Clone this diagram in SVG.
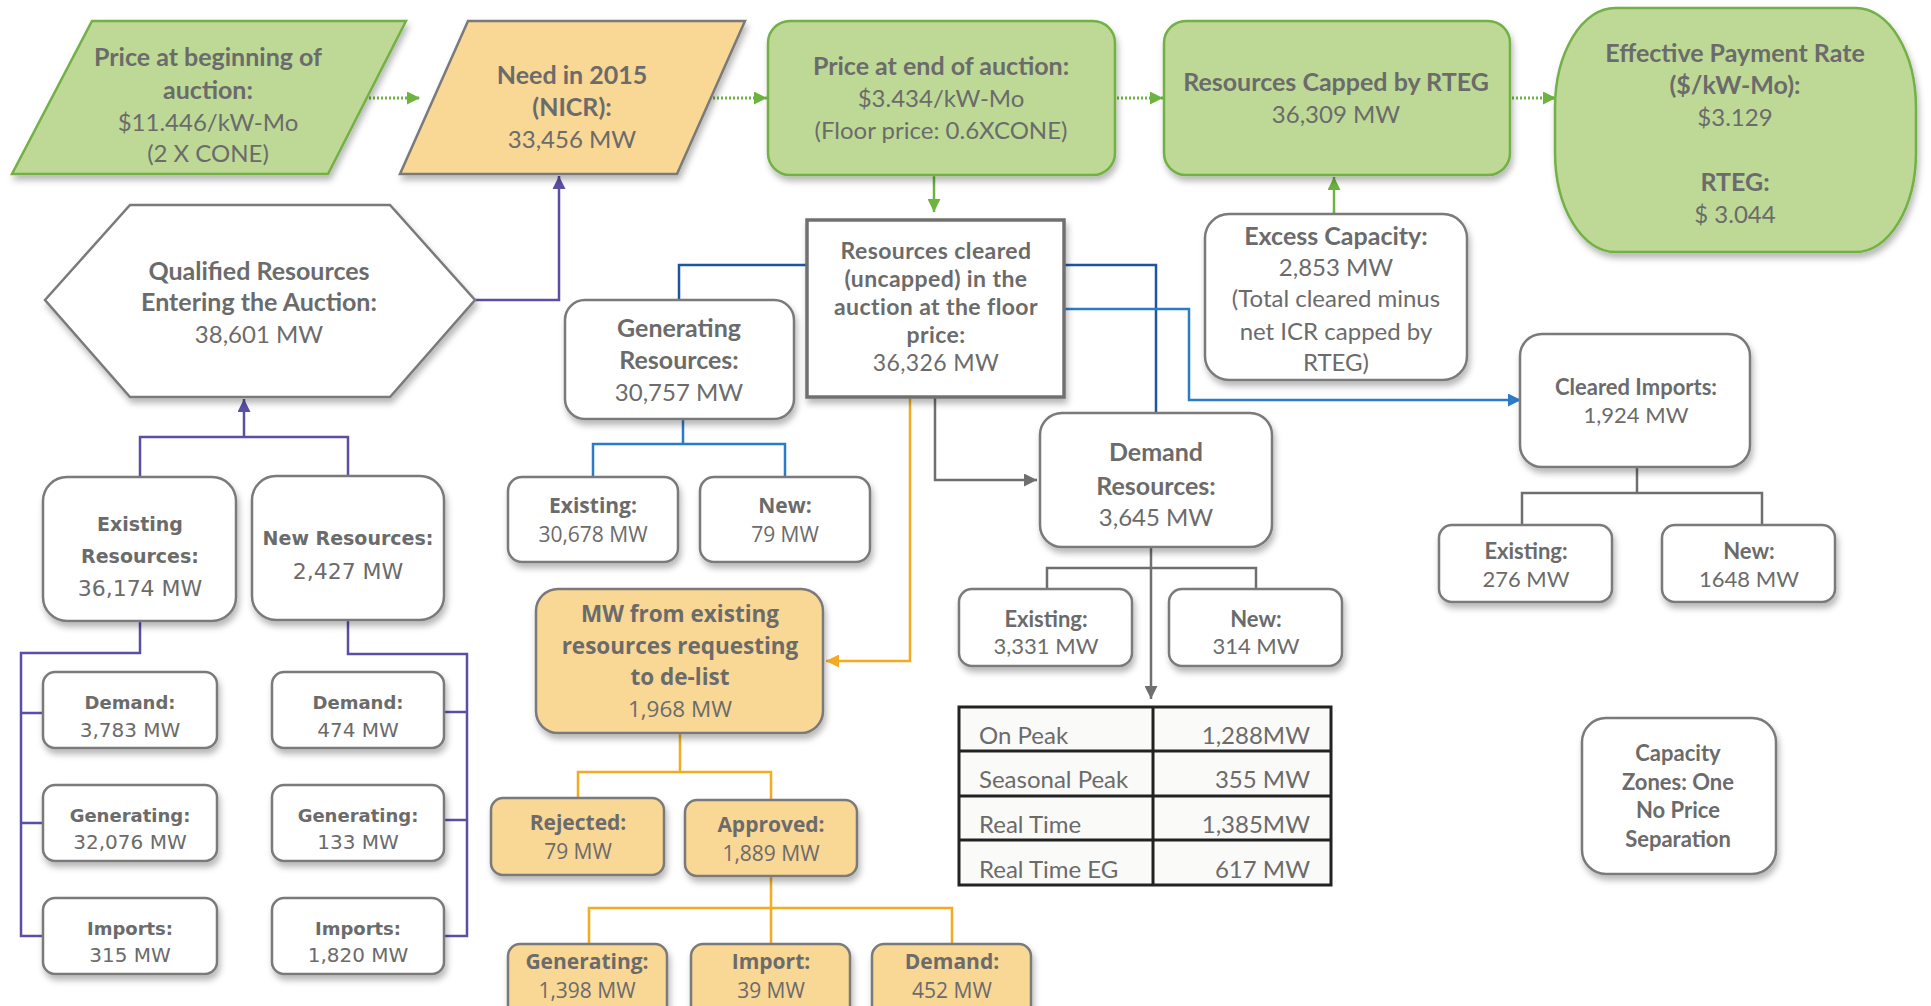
<svg xmlns="http://www.w3.org/2000/svg" width="1931" height="1006" viewBox="0 0 1931 1006">
<defs>
<style>
.t{font-family:Lato,"Open Sans",sans-serif;font-size:24px;fill:#6B6B6B;text-anchor:middle}
.b{font-weight:700}
.t.b{font-size:25px}
.t.c,.t.c.b{font-size:23px;letter-spacing:0.4px}
.v{font-family:"DejaVu Sans",Verdana,sans-serif;font-size:22px}
.v.b{font-size:19px}
.v.sm{font-size:20px}
.v.sm.b{font-size:18px}
.s{font-family:"Open Sans",sans-serif;font-size:21px}
.s.b{font-size:21px}
.s.L,.s.L.b{font-size:22.5px}
.n22,.n22.b{font-size:22px}
.wbox{fill:#fff;stroke:#7A7A7A;stroke-width:2.5;filter:url(#sh)}
.gbox{fill:#BDD995;stroke:#73B045;stroke-width:2.5;filter:url(#sh)}
.obox{fill:#F9D795;stroke:#7A7A7A;stroke-width:2.5;filter:url(#sh)}
.cn{fill:none;stroke-width:2.5}
.pu{stroke:#5A4FA5}
.db{stroke:#1F55A0}
.lb{stroke:#2B7BC8}
.or{stroke:#F4AB20}
.gr{stroke:#6F6F6F}
.gn{stroke:#6DB33F}
.dot{stroke:#6DB33F;stroke-width:3;stroke-dasharray:2 2;fill:none}
</style>
<filter id="sh" x="-10%" y="-10%" width="125%" height="130%">
<feDropShadow dx="2" dy="5" stdDeviation="3" flood-color="#000" flood-opacity="0.28"/>
</filter>
<marker id="aG" viewBox="0 0 10 10" refX="10" refY="5" markerWidth="13" markerHeight="13" markerUnits="userSpaceOnUse" orient="auto"><path d="M0,0 L10,5 L0,10 z" fill="#6DB33F"/></marker>
<marker id="aP" viewBox="0 0 10 10" refX="10" refY="5" markerWidth="13" markerHeight="13" markerUnits="userSpaceOnUse" orient="auto"><path d="M0,0 L10,5 L0,10 z" fill="#5A4FA5"/></marker>
<marker id="aB" viewBox="0 0 10 10" refX="10" refY="5" markerWidth="13" markerHeight="13" markerUnits="userSpaceOnUse" orient="auto"><path d="M0,0 L10,5 L0,10 z" fill="#2B7BC8"/></marker>
<marker id="aO" viewBox="0 0 10 10" refX="10" refY="5" markerWidth="13" markerHeight="13" markerUnits="userSpaceOnUse" orient="auto"><path d="M0,0 L10,5 L0,10 z" fill="#F4AB20"/></marker>
<marker id="aR" viewBox="0 0 10 10" refX="10" refY="5" markerWidth="13" markerHeight="13" markerUnits="userSpaceOnUse" orient="auto"><path d="M0,0 L10,5 L0,10 z" fill="#6F6F6F"/></marker>
</defs>
<rect width="1931" height="1006" fill="#fff"/>

<g id="connectors">
<path class="dot" d="M369,98 H420" marker-end="url(#aG)"/>
<path class="dot" d="M713,98 H767" marker-end="url(#aG)"/>
<path class="dot" d="M1117,98 H1163" marker-end="url(#aG)"/>
<path class="dot" d="M1512,98 H1556" marker-end="url(#aG)"/>
<path class="cn gn" d="M934,175 V212" marker-end="url(#aG)"/>
<path class="cn gn" d="M1334,214 V177" marker-end="url(#aG)"/>
<path class="cn pu" d="M475,300 H559 V176" marker-end="url(#aP)"/>
<path class="cn pu" d="M140,477 V437 H348 V476 M244,437 V399" marker-end="url(#aP)"/>
<path class="cn pu" d="M140,621 V653 H21 V936 H43 M21,713 H43 M21,823 H43"/>
<path class="cn pu" d="M348,620 V654 H467 V936 H445 M467,712 H445 M467,820 H445"/>
<path class="cn db" d="M807,265 H679 V300"/>
<path class="cn db" d="M1064,265 H1156 V413"/>
<path class="cn lb" d="M1064,309 H1189 V400 H1521" marker-end="url(#aB)"/>
<path class="cn lb" d="M683,419 V444 M593,478 V444 H785 V478"/>
<path class="cn or" d="M910,398 V661 H826" marker-end="url(#aO)"/>
<path class="cn gr" d="M935,398 V480 H1037" marker-end="url(#aR)"/>
<path class="cn gr" d="M1151,547 V699" marker-end="url(#aR)"/>
<path class="cn gr" d="M1047,589 V568 H1256 V589"/>
<path class="cn gr" d="M1637,467 V493 M1522,525 V493 H1762 V525"/>
<path class="cn or" d="M680,733 V772 M578,798 V772 H771 V800"/>
<path class="cn or" d="M771,876 V944 M589,944 V908 H952 V944"/>
</g>

<g id="price-begin">
<polygon class="gbox" points="92,21 406,21 328,174 12,174"/>
<text class="t b" x="208" y="66">Price at beginning of</text>
<text class="t b" x="208" y="99">auction:</text>
<text class="t" x="208" y="131">$11.446/kW-Mo</text>
<text class="t" x="208" y="162">(2 X CONE)</text>
</g>

<g id="need-2015">
<polygon class="obox" points="468,21 745,21 677,174 400,174"/>
<text class="t b" x="572" y="84">Need in 2015</text>
<text class="t b" x="572" y="116">(NICR):</text>
<text class="t" x="572" y="148">33,456 MW</text>
</g>

<g id="price-end">
<rect class="gbox" x="768" y="21" width="347" height="154" rx="22"/>
<text class="t b" x="941" y="75">Price at end of auction:</text>
<text class="t" x="941" y="107">$3.434/kW-Mo</text>
<text class="t" x="941" y="139">(Floor price: 0.6XCONE)</text>
</g>

<g id="capped-rteg">
<rect class="gbox" x="1164" y="21" width="346" height="154" rx="22"/>
<text class="t b" x="1336" y="91">Resources Capped by RTEG</text>
<text class="t" x="1336" y="123">36,309 MW</text>
</g>

<g id="effective-rate">
<rect class="gbox" x="1555" y="8" width="361" height="244" rx="60" ry="100"/>
<text class="t b" x="1735" y="62">Effective Payment Rate</text>
<text class="t b" x="1735" y="94">($/kW-Mo):</text>
<text class="t" x="1735" y="126">$3.129</text>
<text class="t b" x="1735" y="191">RTEG:</text>
<text class="t" x="1735" y="223">$ 3.044</text>
</g>

<g id="qualified">
<polygon class="wbox" points="45,300 130,205 390,205 475,300 390,397 130,397"/>
<text class="t b" x="259" y="280">Qualified Resources</text>
<text class="t b" x="259" y="311">Entering the Auction:</text>
<text class="t" x="259" y="343">38,601  MW</text>
</g>

<g id="cleared">
<rect x="807" y="220" width="257" height="177" fill="#fff" stroke="#707070" stroke-width="3.5" filter="url(#sh)"/>
<text class="t c b" x="936" y="259">Resources cleared</text>
<text class="t c b" x="936" y="287">(uncapped) in the</text>
<text class="t c b" x="936" y="315">auction at the floor</text>
<text class="t c b" x="936" y="343">price:</text>
<text class="t c" x="936" y="371">36,326 MW</text>
</g>

<g id="excess">
<rect class="wbox" x="1205" y="214" width="262" height="166" rx="24"/>
<text class="t b" x="1336" y="245">Excess Capacity:</text>
<text class="t" x="1336" y="276">2,853 MW</text>
<text class="t" x="1336" y="307">(Total cleared minus</text>
<text class="t" x="1336" y="340">net ICR capped by</text>
<text class="t" x="1336" y="371">RTEG)</text>
</g>

<g id="generating-res">
<rect class="wbox" x="565" y="300" width="229" height="119" rx="20"/>
<text class="t b" x="679" y="337">Generating</text>
<text class="t b" x="679" y="369">Resources:</text>
<text class="t" x="679" y="401">30,757 MW</text>
</g>

<g id="gen-existing">
<rect class="wbox" x="508" y="477" width="170" height="85" rx="14"/>
<text class="t s b" x="593" y="513">Existing:</text>
<text class="t s" x="593" y="542">30,678 MW</text>
</g>
<g id="gen-new">
<rect class="wbox" x="700" y="477" width="170" height="85" rx="14"/>
<text class="t s b" x="785" y="513">New:</text>
<text class="t s" x="785" y="542">79 MW</text>
</g>

<g id="existing-res">
<rect class="wbox" x="43" y="477" width="193" height="144" rx="24"/>
<text class="t v b" x="140" y="531">Existing</text>
<text class="t v b" x="140" y="563">Resources:</text>
<text class="t v" x="140" y="596">36,174 MW</text>
</g>
<g id="new-res">
<rect class="wbox" x="252" y="476" width="192" height="144" rx="24"/>
<text class="t v b" x="348" y="545">New Resources:</text>
<text class="t v" x="348" y="579">2,427 MW</text>
</g>

<g id="ex-demand">
<rect class="wbox" x="43" y="672" width="174" height="76" rx="12"/>
<text class="t v sm b" x="130" y="709">Demand:</text>
<text class="t v sm" x="130" y="737">3,783 MW</text>
</g>
<g id="ex-generating">
<rect class="wbox" x="43" y="785" width="174" height="76" rx="12"/>
<text class="t v sm b" x="130" y="822">Generating:</text>
<text class="t v sm" x="130" y="849">32,076 MW</text>
</g>
<g id="ex-imports">
<rect class="wbox" x="43" y="898" width="174" height="76" rx="12"/>
<text class="t v sm b" x="130" y="935">Imports:</text>
<text class="t v sm" x="130" y="962">315 MW</text>
</g>
<g id="new-demand">
<rect class="wbox" x="272" y="672" width="172" height="76" rx="12"/>
<text class="t v sm b" x="358" y="709">Demand:</text>
<text class="t v sm" x="358" y="737">474 MW</text>
</g>
<g id="new-generating">
<rect class="wbox" x="272" y="785" width="172" height="76" rx="12"/>
<text class="t v sm b" x="358" y="822">Generating:</text>
<text class="t v sm" x="358" y="849">133 MW</text>
</g>
<g id="new-imports">
<rect class="wbox" x="272" y="898" width="172" height="76" rx="12"/>
<text class="t v sm b" x="358" y="935">Imports:</text>
<text class="t v sm" x="358" y="962">1,820 MW</text>
</g>

<g id="delist">
<rect class="obox" x="536" y="589" width="287" height="144" rx="22"/>
<text class="t s L b" x="680" y="622">MW from existing</text>
<text class="t s L b" x="680" y="654">resources requesting</text>
<text class="t s L b" x="680" y="685">to de-list</text>
<text class="t s L" x="680" y="717">1,968 MW</text>
</g>
<g id="rejected">
<rect class="obox" x="491" y="798" width="173" height="77" rx="12"/>
<text class="t s b" x="578" y="830">Rejected:</text>
<text class="t s" x="578" y="859">79 MW</text>
</g>
<g id="approved">
<rect class="obox" x="685" y="800" width="172" height="76" rx="12"/>
<text class="t s b" x="771" y="832">Approved:</text>
<text class="t s" x="771" y="861">1,889 MW</text>
</g>
<g id="ap-generating">
<rect class="obox" x="508" y="944" width="159" height="75" rx="12"/>
<text class="t s b" x="587" y="969">Generating:</text>
<text class="t s" x="587" y="998">1,398 MW</text>
</g>
<g id="ap-import">
<rect class="obox" x="691" y="944" width="159" height="75" rx="12"/>
<text class="t s b" x="771" y="969">Import:</text>
<text class="t s" x="771" y="998">39 MW</text>
</g>
<g id="ap-demand">
<rect class="obox" x="872" y="944" width="159" height="75" rx="12"/>
<text class="t s b" x="952" y="969">Demand:</text>
<text class="t s" x="952" y="998">452 MW</text>
</g>

<g id="demand-res">
<rect class="wbox" x="1040" y="413" width="232" height="134" rx="22"/>
<text class="t b" x="1156" y="461">Demand</text>
<text class="t b" x="1156" y="495">Resources:</text>
<text class="t" x="1156" y="526">3,645 MW</text>
</g>
<g id="dr-existing">
<rect class="wbox" x="959" y="589" width="173" height="77" rx="13"/>
<text class="t b n22" x="1046" y="627">Existing:</text>
<text class="t n22" x="1046" y="654">3,331 MW</text>
</g>
<g id="dr-new">
<rect class="wbox" x="1169" y="589" width="173" height="77" rx="13"/>
<text class="t b n22" x="1256" y="627">New:</text>
<text class="t n22" x="1256" y="654">314 MW</text>
</g>

<g id="dr-table">
<rect x="959" y="707" width="372" height="178" fill="#FAFAF8" stroke="#222" stroke-width="3"/>
<path d="M1153,707 V885 M959,751 H1331 M959,796 H1331 M959,840 H1331" stroke="#222" stroke-width="3" fill="none"/>
<text class="t" x="979" y="744" style="text-anchor:start">On Peak</text>
<text class="t" x="1310" y="744" style="text-anchor:end">1,288MW</text>
<text class="t" x="979" y="788" style="text-anchor:start">Seasonal Peak</text>
<text class="t" x="1310" y="788" style="text-anchor:end">355 MW</text>
<text class="t" x="979" y="833" style="text-anchor:start">Real Time</text>
<text class="t" x="1310" y="833" style="text-anchor:end">1,385MW</text>
<text class="t" x="979" y="878" style="text-anchor:start">Real Time EG</text>
<text class="t" x="1310" y="878" style="text-anchor:end">617 MW</text>
</g>

<g id="cleared-imports">
<rect class="wbox" x="1520" y="334" width="230" height="133" rx="22"/>
<text class="t b n22" x="1636" y="395">Cleared Imports:</text>
<text class="t n22" x="1636" y="423">1,924 MW</text>
</g>
<g id="ci-existing">
<rect class="wbox" x="1439" y="525" width="173" height="77" rx="13"/>
<text class="t b n22" x="1526" y="559">Existing:</text>
<text class="t n22" x="1526" y="587">276 MW</text>
</g>
<g id="ci-new">
<rect class="wbox" x="1662" y="525" width="173" height="77" rx="13"/>
<text class="t b n22" x="1749" y="559">New:</text>
<text class="t n22" x="1749" y="587">1648  MW</text>
</g>

<g id="capacity-zones">
<rect class="wbox" x="1582" y="718" width="194" height="156" rx="24"/>
<text class="t b n22" x="1678" y="761">Capacity</text>
<text class="t b n22" x="1678" y="790">Zones: One</text>
<text class="t b n22" x="1678" y="818">No Price</text>
<text class="t b n22" x="1678" y="847">Separation</text>
</g>
</svg>
